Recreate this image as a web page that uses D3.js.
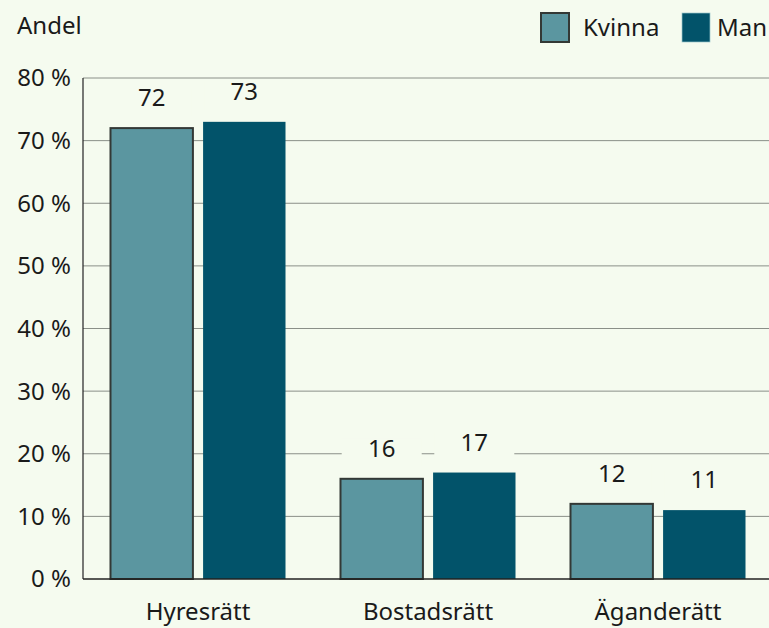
<!DOCTYPE html>
<html><head><meta charset="utf-8">
<script src="https://cdn.jsdelivr.net/npm/d3@7"></script>
<style>
html,body{margin:0;padding:0;background:#f5fbef;}
svg{display:block;font-family:"Noto Sans","Open Sans",sans-serif;}
</style></head><body>
<svg id="c" width="769" height="628"></svg>
<script>
const categories = ["Hyresrätt", "Bostadsrätt", "Äganderätt"];
const seriesNames = ["Kvinna", "Man"];
const kvinna = [72, 16, 12];
const man = [73, 17, 11];
const yTicks = [0, 10, 20, 30, 40, 50, 60, 70, 80];

(function () {
const bg = "#f5fbef";
const colors = {Kvinna: "#5b96a0", Man: "#02536a"};
const fs = 24;
const svg = d3.select("#c");
const mLeft = 83, mRight = 773, mTop = 78, mBottom = 579;

const x0 = d3.scaleBand().domain(categories).range([mLeft, mRight]).paddingInner(0).paddingOuter(0);
const x1 = d3.scaleBand().domain(seriesNames).range([27.5, 230 - 27.5]).paddingInner(0.11);
const y = d3.scaleLinear().domain([0, 80]).range([mBottom, mTop]);

svg.append("g").selectAll("line").data(yTicks.filter(d => d > 0)).join("line")
  .attr("x1", mLeft).attr("x2", 769).attr("y1", d => y(d)).attr("y2", d => y(d))
  .attr("stroke", "#8a8f88").attr("stroke-width", 1);

svg.append("g").selectAll("text").data(yTicks).join("text")
  .attr("x", 71).attr("y", d => y(d)).attr("dy", "0.35em")
  .attr("text-anchor", "end").attr("font-size", fs).attr("fill", "#1a1a1a")
  .text(d => d + " %");

svg.append("text").attr("x", 17).attr("y", 34).attr("font-size", fs).attr("fill", "#1a1a1a").text("Andel");

const data = categories.map((c, i) => ({cat: c, vals: [{s: "Kvinna", v: kvinna[i]}, {s: "Man", v: man[i]}]}));

const g = svg.append("g").selectAll("g").data(data).join("g")
  .attr("transform", d => `translate(${x0(d.cat)},0)`);

g.selectAll("rect.lb").data(d => d.vals).join("rect").attr("class", "lb")
  .attr("x", d => x1(d.s) + x1.bandwidth() / 2 - 40)
  .attr("y", d => y(d.v) - 40).attr("width", 80).attr("height", 28)
  .attr("fill", bg);

g.selectAll("rect.bar").data(d => d.vals).join("rect").attr("class", "bar")
  .attr("x", d => x1(d.s)).attr("width", x1.bandwidth())
  .attr("y", d => y(d.v)).attr("height", d => y(0) - y(d.v))
  .attr("fill", d => colors[d.s])
  .attr("stroke", d => d.s === "Kvinna" ? "#333835" : "none")
  .attr("stroke-width", 2);

g.selectAll("text.vl").data(d => d.vals).join("text").attr("class", "vl")
  .attr("x", d => x1(d.s) + x1.bandwidth() / 2)
  .attr("y", d => y(d.v) - 22)
  .attr("text-anchor", "middle").attr("font-size", fs).attr("fill", "#1a1a1a")
  .text(d => d.v);

svg.append("line").attr("x1", mLeft).attr("x2", mLeft).attr("y1", mTop).attr("y2", mBottom)
  .attr("stroke", "#222").attr("stroke-width", 1.2);
svg.append("line").attr("x1", mLeft).attr("x2", 769).attr("y1", mBottom).attr("y2", mBottom)
  .attr("stroke", "#222").attr("stroke-width", 1.5);

svg.append("g").selectAll("text").data(categories).join("text")
  .attr("x", d => x0(d) + x0.bandwidth() / 2).attr("y", 620)
  .attr("text-anchor", "middle").attr("font-size", fs).attr("fill", "#1a1a1a")
  .text(d => d);

const legendX = [540, 681];
const lg = svg.append("g").selectAll("g").data(seriesNames).join("g")
  .attr("transform", (d, i) => `translate(${legendX[i]},12)`);
lg.append("rect").attr("x", 1).attr("y", 1).attr("width", 28).attr("height", 29)
  .attr("fill", d => colors[d])
  .attr("stroke", d => d === "Kvinna" ? "#333835" : "#9cc6cc")
  .attr("stroke-width", d => d === "Kvinna" ? 2 : 0.7);
lg.append("text").attr("x", d => d === "Kvinna" ? 43 : 36).attr("y", 24)
  .attr("font-size", fs).attr("fill", "#1a1a1a").text(d => d);
})();
</script>
</body></html>
